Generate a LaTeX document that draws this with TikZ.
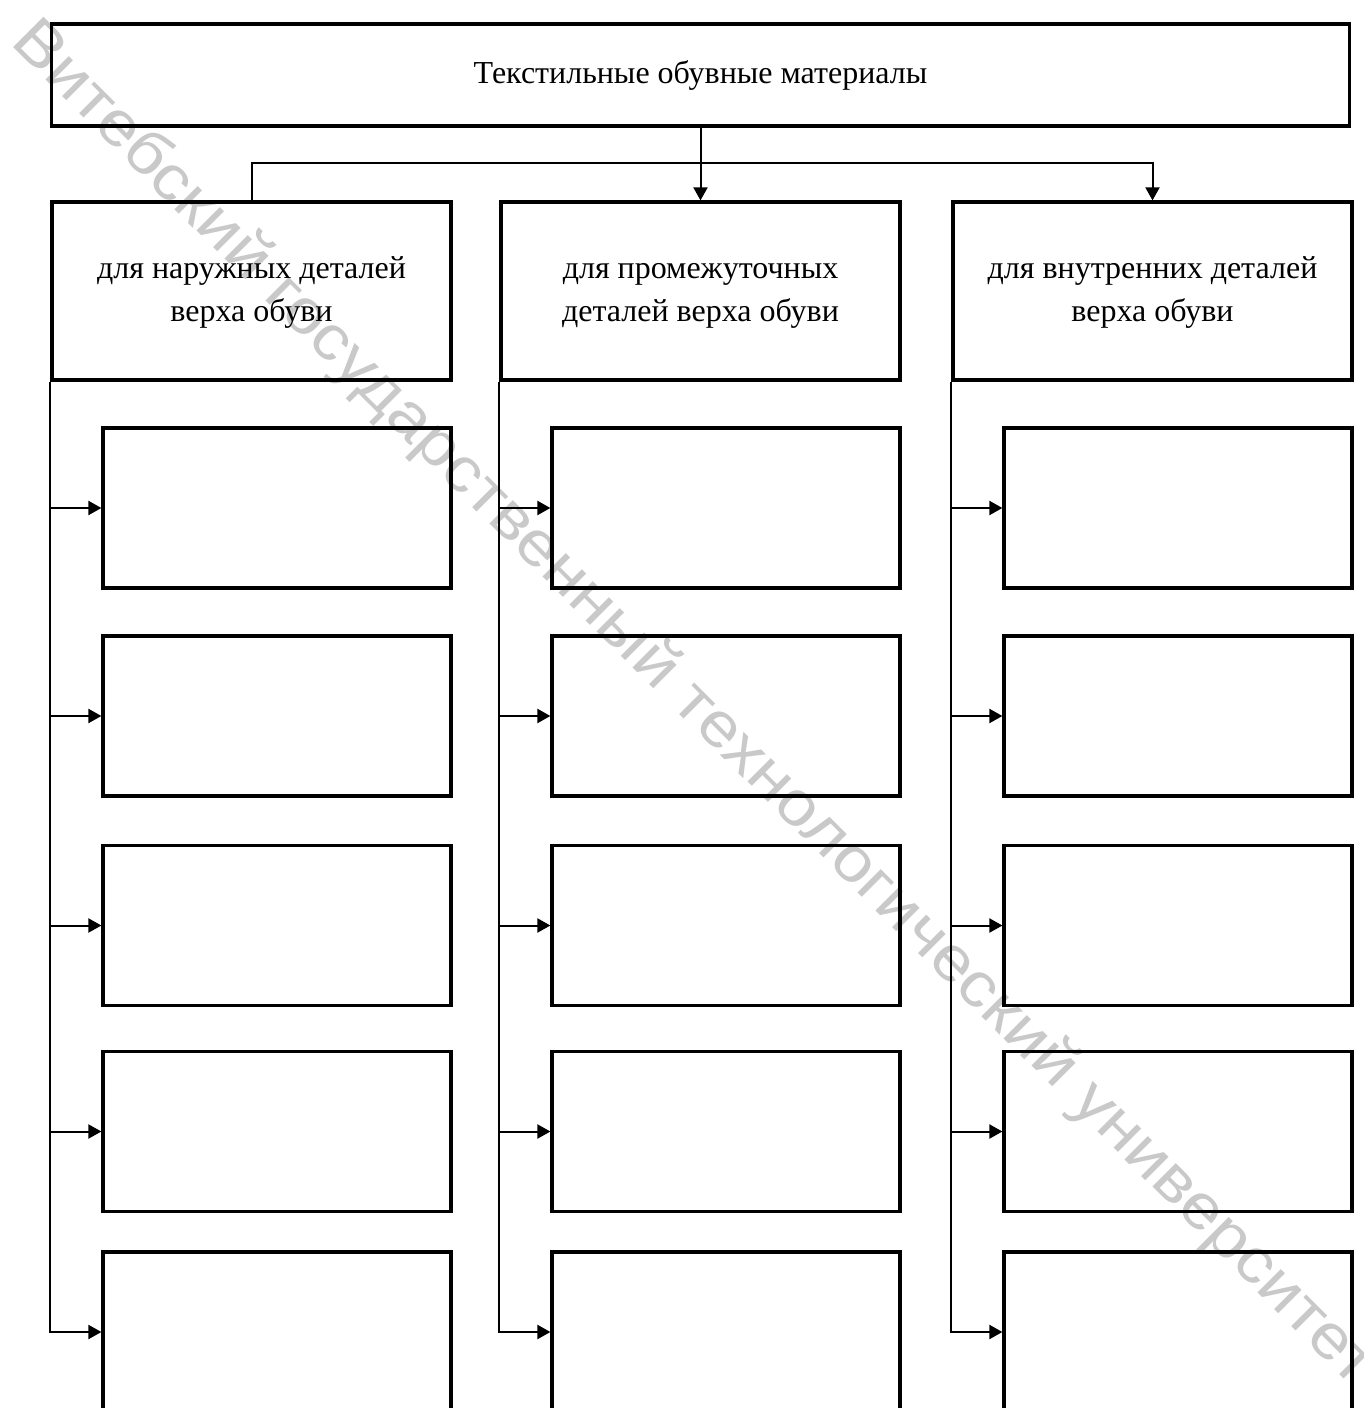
\documentclass[tikz,border=0pt]{standalone}
\usepackage{fontspec}
\setmainfont{Liberation Serif}
\newfontfamily\wmfont[FakeStretch=1.12]{Liberation Sans}
\usetikzlibrary{arrows.meta}
\tikzset{
  box/.style={draw, line width=3.2pt, align=center, inner sep=0pt, font=\fontsize{32}{43}\selectfont},
  conn/.style={line width=2pt},
  arr/.style={line width=2pt, -{Triangle[length=13pt,width=14pt]}},
}
\begin{document}
\begin{tikzpicture}[x=1pt,y=-1pt]
\useasboundingbox (0,0) rectangle (1363,1408);
\clip (0,0) rectangle (1363,1408);
\fill[white] (0,0) rectangle (1363,1408);
\node[rotate=-45, text=black!21, font=\wmfont\fontsize{62.5}{62.5}\selectfont] (wm) at (693,704) {Витебский государственный технологический университет};

\node[box, minimum width=1298pt, minimum height=102pt] (top) at (700.5,75) {\strut Текстильные обувные материалы};

\node[box, minimum width=399pt, minimum height=178pt] (L) at (251.5,291) {\strut для наружных деталей\\\strut верха обуви};
\node[box, minimum width=399pt, minimum height=178pt] (M) at (700.5,291) {\strut для промежуточных\\\strut деталей верха обуви};
\node[box, minimum width=399pt, minimum height=178pt] (R) at (1152.5,291) {\strut для внутренних деталей\\\strut верха обуви};

\coordinate (bus) at (700.5,163);
\draw[conn] (top.south) -- (bus);
\draw[conn] (bus) -| (L.north);
\draw[arr] (bus) -- (M.north);
\draw[arr] (bus) -| (R.north);

\foreach \col/\cx in {L/277, M/726, R/1178} {
  \foreach \i/\cy in {1/508, 2/716, 3/925.5, 4/1131.5, 5/1332} {
    \node[box, minimum width=348pt, minimum height=160pt] (\col\i) at (\cx,\cy) {};
    \draw[arr] (\col.south west) |- (\col\i.west);
  }
}
\end{tikzpicture}
\end{document}
